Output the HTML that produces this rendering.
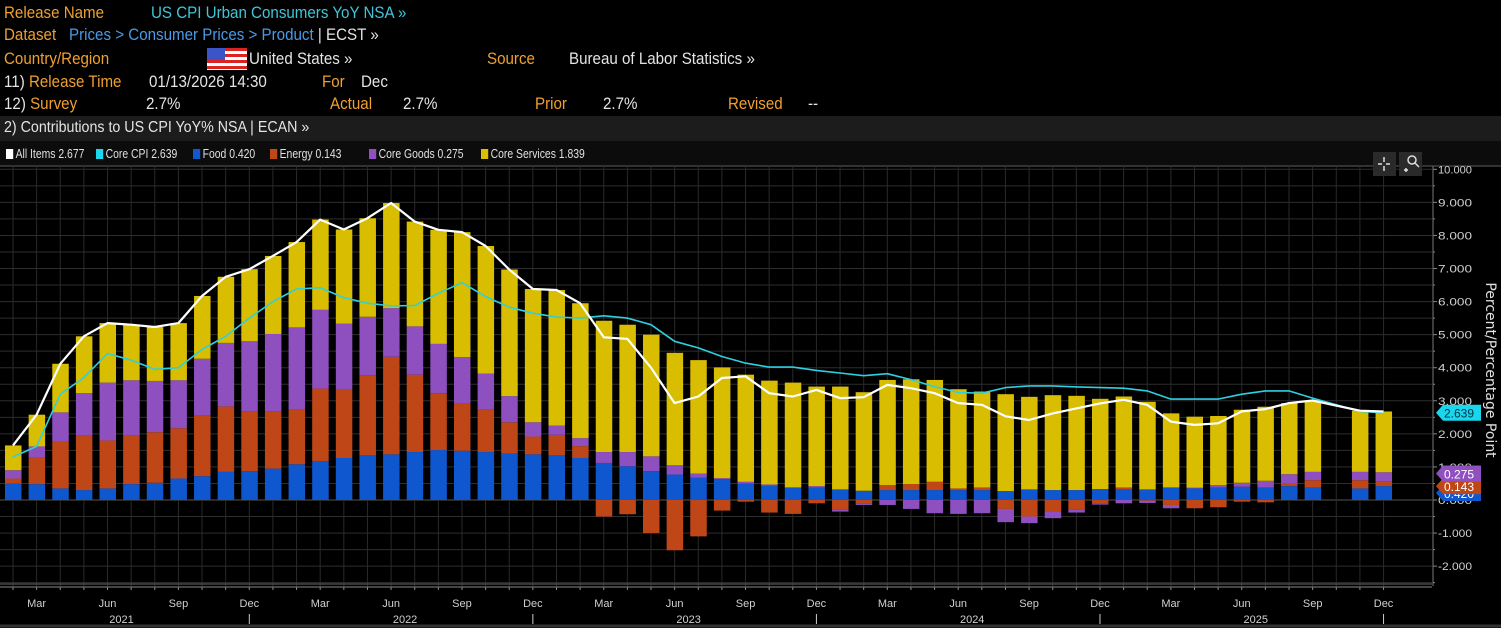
<!DOCTYPE html>
<html><head><meta charset="utf-8">
<style>
html,body{margin:0;padding:0;background:#000;}
body{width:1501px;height:628px;overflow:hidden;position:relative;font-family:"Liberation Sans Narrow","Liberation Sans",sans-serif;}
.t{position:absolute;font-size:17px;white-space:nowrap;line-height:20px;transform:scaleX(0.89);transform-origin:0 0;}
.o{color:#f0a030}.c{color:#3fc6d8}.b{color:#4a9ae6}.w{color:#e4e4e4}
#bar2{position:absolute;left:0;top:116px;width:1501px;height:25px;background:#1c1c1c;}
#leg{position:absolute;left:0;top:141px;width:1501px;height:24px;background:#0c0c0c;}
.li{position:absolute;top:146px;font-size:13px;color:#e0e0e0;white-space:nowrap;transform:scaleX(0.8);transform-origin:0 0;}
.sw{display:inline-block;width:9px;height:10px;margin-right:3px;vertical-align:-1px;}
svg{position:absolute;left:0;top:0;}
</style></head><body>
<div class="t o" style="left:4px;top:3px">Release Name</div>
<div class="t c" style="left:151px;top:3px">US CPI Urban Consumers YoY NSA »</div>
<div class="t o" style="left:4px;top:25px">Dataset</div>
<div class="t b" style="left:69px;top:25px">Prices &gt; Consumer Prices &gt; Product <span class="w">| ECST »</span></div>
<div class="t o" style="left:4px;top:49px">Country/Region</div>
<div style="position:absolute;left:207px;top:48px;width:40px;height:22px;background:repeating-linear-gradient(#d22 0 3px,#fff 3px 6px)"><div style="width:18px;height:12px;background:#3b55c8"></div></div>
<div class="t w" style="left:249px;top:49px">United States »</div>
<div class="t o" style="left:487px;top:49px">Source</div>
<div class="t w" style="left:569px;top:49px">Bureau of Labor Statistics »</div>
<div class="t w" style="left:4px;top:72px">11) <span class="o">Release Time</span></div>
<div class="t w" style="left:149px;top:72px">01/13/2026 14:30</div>
<div class="t o" style="left:322px;top:72px">For</div>
<div class="t w" style="left:361px;top:72px">Dec</div>
<div class="t w" style="left:4px;top:94px">12) <span class="o">Survey</span></div>
<div class="t w" style="left:146px;top:94px">2.7%</div>
<div class="t o" style="left:330px;top:94px">Actual</div>
<div class="t w" style="left:403px;top:94px">2.7%</div>
<div class="t o" style="left:535px;top:94px">Prior</div>
<div class="t w" style="left:603px;top:94px">2.7%</div>
<div class="t o" style="left:728px;top:94px">Revised</div>
<div class="t w" style="left:808px;top:94px">--</div>
<div id="bar2"></div>
<div class="t w" style="left:4px;top:118px;font-size:16px">2) Contributions to US CPI YoY% NSA | ECAN »</div>
<div id="leg"></div>
<div class="li" style="left:6px"><span class="sw" style="background:#fff"></span>All Items 2.677</div>
<div class="li" style="left:96px"><span class="sw" style="background:#1ad8f0"></span>Core CPI 2.639</div>
<div class="li" style="left:193px"><span class="sw" style="background:#1058d0"></span>Food 0.420</div>
<div class="li" style="left:270px"><span class="sw" style="background:#c04818"></span>Energy 0.143</div>
<div class="li" style="left:369px"><span class="sw" style="background:#9050c0"></span>Core Goods 0.275</div>
<div class="li" style="left:481px"><span class="sw" style="background:#dcc000"></span>Core Services 1.839</div>
<svg id="chart" width="1501" height="628"></svg>
<script>
const monthLabels=["Feb","Mar","Apr","May","Jun","Jul","Aug","Sep","Oct","Nov","Dec","Jan","Feb","Mar","Apr","May","Jun","Jul","Aug","Sep","Oct","Nov","Dec","Jan","Feb","Mar","Apr","May","Jun","Jul","Aug","Sep","Oct","Nov","Dec","Jan","Feb","Mar","Apr","May","Jun","Jul","Aug","Sep","Oct","Nov","Dec","Jan","Feb","Mar","Apr","May","Jun","Jul","Aug","Sep","Oct","Nov","Dec"];
const food=[0.5,0.48,0.35,0.3,0.35,0.48,0.52,0.65,0.72,0.85,0.87,0.95,1.08,1.18,1.27,1.35,1.38,1.45,1.51,1.49,1.45,1.4,1.38,1.35,1.27,1.12,1.02,0.87,0.77,0.67,0.63,0.5,0.43,0.38,0.38,0.32,0.28,0.3,0.3,0.3,0.3,0.3,0.27,0.32,0.3,0.3,0.33,0.32,0.32,0.38,0.35,0.38,0.4,0.38,0.42,0.38,null,0.35,0.42];
const energy=[0.15,0.82,1.42,1.64,1.45,1.46,1.53,1.52,1.83,1.98,1.8,1.72,1.67,2.19,2.07,2.42,2.95,2.34,1.72,1.43,1.3,0.95,0.54,0.62,0.36,-0.5,-0.43,-1.0,-1.52,-1.1,-0.32,-0.05,-0.38,-0.42,-0.1,-0.3,-0.1,0.15,0.18,0.25,0.05,0.08,-0.27,-0.5,-0.35,-0.3,-0.1,0.06,-0.02,-0.15,-0.25,-0.22,-0.05,-0.07,0.08,0.22,null,0.25,0.143];
const goods=[0.25,0.32,0.88,1.29,1.75,1.68,1.55,1.45,1.72,1.92,2.13,2.35,2.47,2.38,1.99,1.77,1.47,1.46,1.49,1.4,1.07,0.79,0.43,0.28,0.24,0.33,0.43,0.45,0.28,0.13,0.03,0.05,0.04,0.0,0.04,-0.05,-0.05,-0.15,-0.27,-0.4,-0.42,-0.4,-0.4,-0.2,-0.2,-0.08,-0.04,-0.1,-0.07,-0.1,0.02,0.07,0.12,0.2,0.28,0.25,null,0.25,0.275];
const allItems=[1.65,2.58,4.12,4.95,5.35,5.3,5.23,5.35,6.17,6.75,6.98,7.38,7.8,8.48,8.18,8.52,8.98,8.42,8.17,8.1,7.68,6.97,6.38,6.35,5.95,4.92,4.87,4.0,2.93,3.13,3.69,3.74,3.23,3.13,3.33,3.08,3.11,3.48,3.38,3.23,2.93,2.88,2.53,2.42,2.62,2.77,2.92,3.03,2.88,2.37,2.27,2.32,2.68,2.75,2.93,3.01,null,2.7,2.677];
const coreCpi=[1.3,1.62,3.2,3.7,4.43,4.23,3.95,4.0,4.55,4.95,5.5,6.0,6.38,6.42,6.12,5.95,5.87,5.88,6.25,6.57,6.15,5.83,5.65,5.53,5.5,5.57,5.5,5.3,4.8,4.6,4.34,4.14,4.02,4.02,3.92,3.84,3.76,3.82,3.64,3.43,3.25,3.23,3.4,3.45,3.45,3.42,3.4,3.38,3.3,3.05,3.05,3.05,3.2,3.3,3.3,3.08,null,2.68,2.639];
const yTicks=[10,9,8,7,6,5,4,3,2,1,0,-1,-2];
const yearLabels=["2021","2022","2023","2024","2025"];

const NS="http://www.w3.org/2000/svg";
const svg=document.getElementById('chart');
const X0=13,DX=23.63,Y0=500,DY=33.07,PL=0,PR=1432,PT=166,PB=586;
const xs=i=>X0+DX*i, ys=v=>Y0-v*DY;
const FF='"Liberation Sans Narrow","Liberation Sans",sans-serif';
function mk(tag,at,parent){const e=document.createElementNS(NS,tag);for(const k in at)e.setAttribute(k,at[k]);(parent||svg).appendChild(e);return e;}
const grid=mk('g',{});


mk('line',{x1:0,x2:1501,y1:PT,y2:PT,stroke:'#333','stroke-width':2},grid);
for(let v=-2.5;v<=10;v+=0.5){mk('line',{x1:PL,x2:PR,y1:ys(v),y2:ys(v),stroke:v===0?'#555':'#2e2e2e','stroke-width':1},grid);}
for(let i=0;i<monthLabels.length;i++){mk('line',{x1:xs(i),x2:xs(i),y1:PT,y2:PB,stroke:'#2a2a2a','stroke-width':1},grid);}
const colors={food:'#0f57cf',energy:'#bf4717',goods:'#8e4fbf',serv:'#d8bd00'};
for(let i=0;i<monthLabels.length;i++){
  if(allItems[i]===null)continue;
  const serv=allItems[i]-food[i]-energy[i]-goods[i];
  const parts=[['food',food[i]],['energy',energy[i]],['goods',goods[i]],['serv',serv]];
  let pos=0,neg=0;
  for(const [k,v] of parts){
    let y1,y2;
    if(v>=0){y1=ys(pos+v);y2=ys(pos);pos+=v;}else{y1=ys(neg);y2=ys(neg+v);neg+=v;}
    const r=mk('rect',{x:xs(i)-8,y:y1,width:16.5,height:Math.max(0,y2-y1),fill:colors[k]});
    
    
  }
}
function line(arr,color,w,name){
  let d='';let first=true;
  arr.forEach((v,i)=>{if(v===null)return;d+=(first?'M':'L')+xs(i).toFixed(1)+','+ys(v).toFixed(1);first=false;});
  const p=mk('path',{d:d,fill:'none',stroke:color,'stroke-width':w,'stroke-linejoin':'round'});
  
  
}
line(coreCpi,'#2ed0e0',1.6,'core-cpi-line');
line(allItems,'#ffffff',2.2,'all-items-line');
const ax=mk('g',{});


mk('line',{x1:PR+1,x2:PR+1,y1:PT,y2:PB,stroke:'#777','stroke-width':1},ax);
for(let v=-2.5;v<=10;v+=0.5){mk('line',{x1:PR+1,x2:PR+(v%1===0?5:3),y1:ys(v),y2:ys(v),stroke:'#888'},ax);}
yTicks.forEach(v=>{
  const t=mk('text',{x:PR+6,y:ys(v)+4,fill:'#d0d0d0','font-size':11,'font-family':FF,textLength:34,lengthAdjust:'spacingAndGlyphs'},ax);
  t.textContent=v.toFixed(3);
  
  
});
const yt=mk('text',{x:0,y:0,fill:'#e0e0e0','font-size':14,transform:'translate(1486,370) rotate(90)','text-anchor':'middle','font-family':'"DejaVu Sans",sans-serif'});
yt.textContent='Percent/Percentage Point';


const xa=mk('g',{});


mk('line',{x1:0,x2:PR,y1:PB-2,y2:PB-2,stroke:'#666'},xa);
mk('line',{x1:0,x2:PR,y1:PB+1,y2:PB+1,stroke:'#888'},xa);
for(let i=0;i<monthLabels.length;i++){
  mk('line',{x1:xs(i),x2:xs(i),y1:PB+1,y2:PB+4,stroke:'#888'},xa);
  const m=monthLabels[i];
  if(['Mar','Jun','Sep','Dec'].includes(m)){
    const t=mk('text',{x:xs(i),y:PB+21,fill:'#d0d0d0','font-size':11,'text-anchor':'middle','font-family':FF},xa);
    t.textContent=m;
    
    
    if(m==='Dec'){mk('line',{x1:xs(i),x2:xs(i),y1:PB+28,y2:PB+38,stroke:'#ccc'},xa);}
    if(m==='Jun'){
      const yr=mk('text',{x:xs(i)+14,y:PB+37,fill:'#d0d0d0','font-size':11,'text-anchor':'middle','font-family':FF},xa);
      yr.textContent=yearLabels[Math.floor((i+1)/12)];
      
      
    }
  }
}
mk('line',{x1:0,x2:1501,y1:626,y2:626,stroke:'#333','stroke-width':3});
function tag(v,fill,txt,tc,name){
  const g=mk('g',{});
  
  
  const y=ys(v);
  mk('path',{d:`M1436,${y} L1443,${y-8} L1481,${y-8} L1481,${y+8} L1443,${y+8} Z`,fill:fill},g);
  const t=mk('text',{x:1444,y:y+5,fill:tc,'font-size':12,'font-family':FF,textLength:30,lengthAdjust:'spacingAndGlyphs'},g);
  t.textContent=txt;
}
tag(0.21,'#0f57cf','0.420','#fff','tag-food');
tag(0.42,'#bf4717','0.143','#fff','tag-energy');
tag(0.8,'#9050c0','0.275','#fff','tag-core-goods');
tag(2.639,'#19d6ee','2.639','#05333a','tag-core-cpi');
const ic=mk('g',{});


mk('rect',{x:1373,y:152,width:23,height:24,fill:'#2a2a2a'},ic);
mk('rect',{x:1399,y:152,width:23,height:24,fill:'#2a2a2a'},ic);
mk('path',{d:'M1384,157v5M1384,166v5M1378,164h4M1386,164h4',stroke:'#ddd','stroke-width':1.5},ic);
mk('circle',{cx:1412,cy:160,r:4,fill:'none',stroke:'#ddd','stroke-width':1.5},ic);
mk('path',{d:'M1415,163l4,4M1404,170h4M1406,168v4',stroke:'#ddd','stroke-width':1.5},ic);
</script>
</body></html>
